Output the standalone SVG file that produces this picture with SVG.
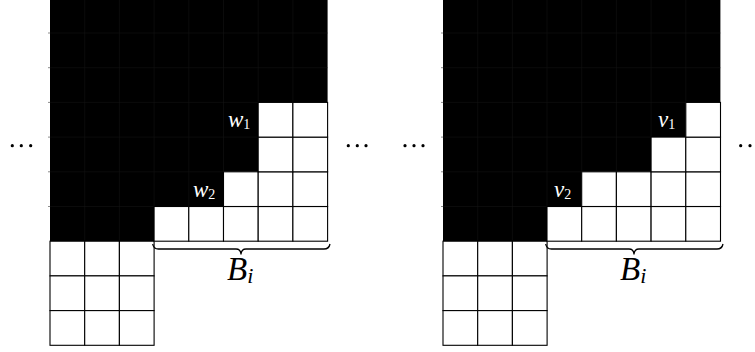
<svg xmlns="http://www.w3.org/2000/svg" width="755" height="352" viewBox="0 0 755 352">
<style>
.blk{fill:#000;stroke:none}
.seam{stroke:#161616;stroke-width:0.5;fill:none}
.w{fill:#fff;stroke:#000;stroke-width:1.1}
.lbl{font-family:"Liberation Serif","Times New Roman",serif;font-style:italic;fill:#fff;font-size:23px}
.sub{font-size:14px;font-style:normal}
.bl{font-family:"Liberation Serif","Times New Roman",serif;font-style:italic;fill:#000;font-size:33px}
.brace{fill:none;stroke:#000;stroke-width:1.3;stroke-linejoin:round}
.dot{fill:#000}
</style>
<defs>
<rect id="c" width="34.7" height="34.7" class="w"/>
</defs>
<rect width="755" height="352" fill="#fff"/>

<g id="left-diagram">
<polygon class="blk" points="50,-2 327.6,-2 327.6,102.4 258.2,102.4 258.2,171.8 223.5,171.8 223.5,206.5 154.1,206.5 154.1,241.2 50,241.2"/>
<path class="seam" d="M84.7,-2V241.2M119.4,-2V241.2M154.1,-2V206.5M188.8,-2V206.5M223.5,-2V171.8M258.2,-2V102.4M292.9,-2V102.4M48,33H327.6M48,67.7H327.6M48,102.4H258.2M48,137.1H258.2M48,171.8H223.5M48,206.5H154.1"/>
<g id="left-bottom-cells">
<use href="#c" x="50" y="241.2"/><use href="#c" x="84.7" y="241.2"/><use href="#c" x="119.4" y="241.2"/>
<use href="#c" x="50" y="275.9"/><use href="#c" x="84.7" y="275.9"/><use href="#c" x="119.4" y="275.9"/>
<use href="#c" x="50" y="310.6"/><use href="#c" x="84.7" y="310.6"/><use href="#c" x="119.4" y="310.6"/>
</g>
<g id="left-Bi-cells">
<use href="#c" x="154.1" y="206.5"/><use href="#c" x="188.8" y="206.5"/><use href="#c" x="223.5" y="206.5"/><use href="#c" x="258.2" y="206.5"/><use href="#c" x="292.9" y="206.5"/>
<use href="#c" x="223.5" y="171.8"/><use href="#c" x="258.2" y="171.8"/><use href="#c" x="292.9" y="171.8"/>
<use href="#c" x="258.2" y="137.1"/><use href="#c" x="292.9" y="137.1"/>
<use href="#c" x="258.2" y="102.4"/><use href="#c" x="292.9" y="102.4"/>
</g>
<text class="lbl" x="228" y="126.5">w<tspan class="sub" dy="2">1</tspan></text>
<text class="lbl" x="193" y="197">w<tspan class="sub" dy="2">2</tspan></text>
<path class="brace" d="M152.7,244 Q153.5,249 158.5,249 L236,249 Q240.5,249 241,254 Q241.5,249 246,249 L324,249 Q329,249 330,244"/>
<text class="bl" x="227" y="280">B<tspan font-size="22" dy="3">i</tspan></text>
</g>

<g id="right-diagram">
<polygon class="blk" points="443,-2 720.4,-2 720.4,102.4 685.8,102.4 685.8,137.1 651.1,137.1 651.1,171.8 581.7,171.8 581.7,206.5 547,206.5 547,241.2 443,241.2"/>
<path class="seam" d="M477.7,-2V241.2M512.4,-2V241.2M547,-2V206.5M581.7,-2V171.8M616.4,-2V171.8M651.1,-2V137.1M685.8,-2V102.4M441,33H720.4M441,67.7H720.4M441,102.4H685.8M441,137.1H651.1M441,171.8H581.7M441,206.5H547"/>
<g id="right-bottom-cells">
<use href="#c" x="443" y="241.2"/><use href="#c" x="477.7" y="241.2"/><use href="#c" x="512.4" y="241.2"/>
<use href="#c" x="443" y="275.9"/><use href="#c" x="477.7" y="275.9"/><use href="#c" x="512.4" y="275.9"/>
<use href="#c" x="443" y="310.6"/><use href="#c" x="477.7" y="310.6"/><use href="#c" x="512.4" y="310.6"/>
</g>
<g id="right-Bi-cells">
<use href="#c" x="547" y="206.5"/><use href="#c" x="581.7" y="206.5"/><use href="#c" x="616.4" y="206.5"/><use href="#c" x="651.1" y="206.5"/><use href="#c" x="685.8" y="206.5"/>
<use href="#c" x="581.7" y="171.8"/><use href="#c" x="616.4" y="171.8"/><use href="#c" x="651.1" y="171.8"/><use href="#c" x="685.8" y="171.8"/>
<use href="#c" x="651.1" y="137.1"/><use href="#c" x="685.8" y="137.1"/>
<use href="#c" x="685.8" y="102.4"/>
</g>
<text class="lbl" x="658" y="126.5">v<tspan class="sub" dy="2">1</tspan></text>
<text class="lbl" x="554" y="197">v<tspan class="sub" dy="2">2</tspan></text>
<path class="brace" d="M545.7,244 Q546.5,249 551.5,249 L629,249 Q633.5,249 634,254 Q634.5,249 639,249 L717,249 Q722,249 723,244"/>
<text class="bl" x="620" y="280">B<tspan font-size="22" dy="3">i</tspan></text>
</g>

<g id="ellipses">
<circle class="dot" cx="12.3" cy="145.7" r="1.6"/><circle class="dot" cx="21.3" cy="145.7" r="1.6"/><circle class="dot" cx="30.7" cy="145.7" r="1.6"/>
<circle class="dot" cx="348.3" cy="145.7" r="1.6"/><circle class="dot" cx="357.3" cy="145.7" r="1.6"/><circle class="dot" cx="366" cy="145.7" r="1.6"/>
<circle class="dot" cx="405" cy="145.7" r="1.6"/><circle class="dot" cx="414" cy="145.7" r="1.6"/><circle class="dot" cx="423" cy="145.7" r="1.6"/>
<circle class="dot" cx="740.7" cy="145.7" r="1.6"/><circle class="dot" cx="750" cy="145.7" r="1.6"/>
</g>
</svg>
